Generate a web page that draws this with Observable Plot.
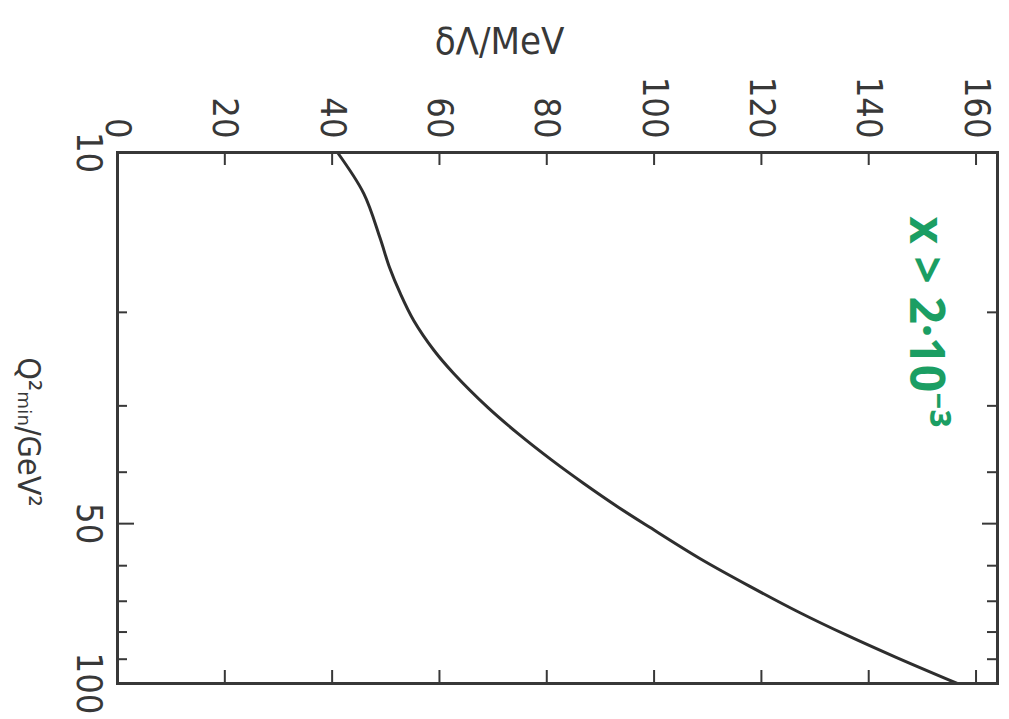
<!DOCTYPE html>
<html>
<head>
<meta charset="utf-8">
<script src="https://cdn.jsdelivr.net/npm/d3@7"></script>
<script src="https://cdn.jsdelivr.net/npm/@observablehq/plot@0.6"></script>
<style>
  html, body { margin: 0; padding: 0; background: #ffffff; }
  svg text { font-stretch: condensed; }
</style>
</head>
<body>
<div id="chart"></div>
<script>
// Curve: Q²min (GeV², log) vs δΛ (MeV)
const curveQ  = [10, 11.95, 14.46, 16.47, 18.43, 20.72, 23.6, 26.1, 30.2, 33.8, 38.0, 42.0, 46.6, 50.8, 58.2, 65.9, 73.5, 81.2, 89.3, 100];
const curveDL = [41.0, 45.9, 48.9, 50.7, 52.7, 55.2, 59.0, 62.7, 69.0, 74.6, 81.0, 86.9, 93.4, 99.2, 108.6, 118.2, 127.1, 136.0, 145.1, 156.5];

// Axis ticks
const xTicks = [0, 20, 40, 60, 80, 100, 120, 140, 160];
const yMinorTicks = [20, 30, 40, 60, 70, 80, 90];
const yMajorTicks = [50];
const yLabelTicks = [10, 50, 100];

// Texts
const xTitle = "δΛ/MeV";
const yTitle = "Q²ₘᵢₙ/GeV²";
const note = "x > 2·10⁻³";

const data = curveQ.map((q, i) => ({q, dl: curveDL[i]}));

const W = 1009, H = 719;
const mT = 152, mL = 117, mR = 12, mB = 36;
const plotW = W - mL - mR, plotH = H - mT - mB;
const ink = "#383838";
const font = "'DejaVu Sans Condensed', 'DejaVu Sans', sans-serif";

const chart = Plot.plot({
  width: W,
  height: H,
  marginTop: mT,
  marginLeft: mL,
  marginRight: mR,
  marginBottom: mB,
  style: {fontFamily: font, color: ink, background: "#fff"},
  x: {domain: [0, 164], axis: null},
  y: {type: "log", domain: [10, 100], reverse: true, axis: null},
  marks: [
    // inward ticks, top and bottom
    Plot.ruleX(xTicks, {x: d => d, insetBottom: plotH - 13, stroke: ink, strokeWidth: 2}),
    Plot.ruleX(xTicks, {x: d => d, insetTop: plotH - 13, stroke: ink, strokeWidth: 2}),
    // inward ticks, left and right
    Plot.ruleY(yMinorTicks, {y: d => d, insetRight: plotW - 10, stroke: ink, strokeWidth: 2}),
    Plot.ruleY(yMajorTicks, {y: d => d, insetRight: plotW - 17, stroke: ink, strokeWidth: 2}),
    Plot.ruleY(yMinorTicks, {y: d => d, insetLeft: plotW - 10, stroke: ink, strokeWidth: 2}),
    Plot.ruleY(yMajorTicks, {y: d => d, insetLeft: plotW - 15, stroke: ink, strokeWidth: 2}),
    // tick labels
    Plot.axisX(xTicks, {anchor: "top", tickSize: 0, tickRotate: 90, tickPadding: 14, fontSize: 36, label: null, fill: ink}),
    Plot.axisY(yLabelTicks, {anchor: "left", tickSize: 0, tickRotate: 90, tickPadding: 15, fontSize: 36, label: null, fill: ink, tickFormat: d => String(d)}),
    // axis titles
    Plot.text([xTitle], {frameAnchor: "top", dx: -58, dy: -111, fontSize: 38, fill: ink, lineAnchor: "middle", textAnchor: "middle"}),
    Plot.text([yTitle], {frameAnchor: "left", dx: -89, dy: 14, rotate: 90, fontSize: 32, fill: ink, textAnchor: "middle", lineAnchor: "middle"}),
    // curve
    Plot.line(data, {x: "dl", y: "q", curve: "catmull-rom", stroke: "#2e2e2e", strokeWidth: 3}),
    // handwritten annotation
    Plot.text([note], {frameAnchor: "right", dx: -72, dy: -96, rotate: 90, fontSize: 48, fontWeight: "bold",
      textAnchor: "middle", lineAnchor: "middle",
      fontFamily: "'Noto Sans', sans-serif", fill: "#1b9e63"}),
    Plot.frame({stroke: ink, strokeWidth: 3})
  ]
});

document.getElementById("chart").appendChild(chart);
</script>
</body>
</html>
